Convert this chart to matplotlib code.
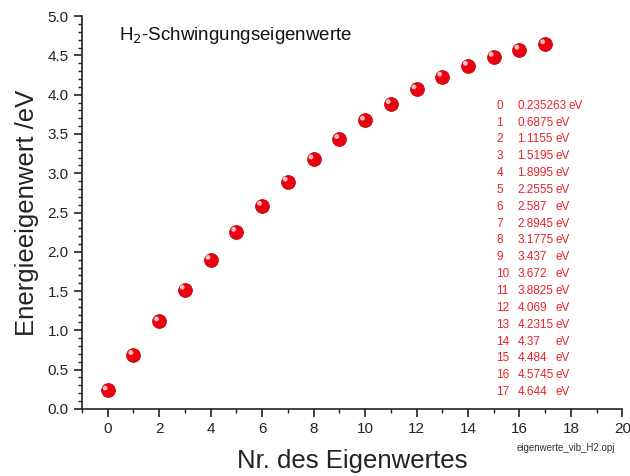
import numpy as np
import matplotlib.pyplot as plt

plt.rcParams['font.family'] = ['Liberation Sans', 'DejaVu Sans']

# eigenvalue number and energy in eV
nr = list(range(18))
energie = [0.235263, 0.6875, 1.1155, 1.5195, 1.8995, 2.2555, 2.587, 2.8945, 3.1775,
           3.437, 3.672, 3.8825, 4.069, 4.2315, 4.37, 4.484, 4.5745, 4.644]
werte_text = ['0.235263', '0.6875', '1.1155', '1.5195', '1.8995', '2.2555', '2.587', '2.8945',
              '3.1775', '3.437', '3.672', '3.8825', '4.069', '4.2315', '4.37', '4.484',
              '4.5745', '4.644']

fig = plt.figure(figsize=(6.3, 4.76), dpi=100)
ax = fig.add_axes([0.130, 0.141, 0.858, 0.825])

# red "sphere" markers with a small highlight
ax.scatter(nr, energie, s=100, color='#ee0010', edgecolors='#b00000', linewidths=0.5, zorder=3)
ax.scatter(np.array(nr) - 0.1, np.array(energie) + 0.03, s=12, color='#ffc0c0',
           edgecolors='none', zorder=4)

ax.set_xlim(-1, 20)
ax.set_ylim(0, 5)
ax.set_xticks(range(0, 21, 2))
ax.set_xticks(range(-1, 21), minor=True)
ax.set_yticks(np.arange(0, 5.01, 0.5))
ax.set_yticks(np.arange(0, 5.01, 0.1), minor=True)
ax.yaxis.set_major_formatter(plt.FormatStrFormatter('%.1f'))
ax.tick_params(which='major', length=6, width=1.2, labelsize=11, direction='out',
               colors='#222222')
ax.tick_params(which='minor', length=3, width=1.0, direction='out', colors='#222222')
for s in ['top', 'right']:
    ax.spines[s].set_visible(False)
for s in ['left', 'bottom']:
    ax.spines[s].set_linewidth(1.2)
    ax.spines[s].set_color('#222222')

ax.set_xlabel('Nr. des Eigenwertes', fontsize=18.5, labelpad=9, color='#222222')
ax.set_ylabel('Energieeigenwert /eV', fontsize=18.5, labelpad=6, color='#222222')

ax.text(0.45, 4.7, 'H$_2$-Schwingungseigenwerte', fontsize=13.5, color='#111111')

# red table of values
y0 = 3.86
dy = 0.2145
for i, (n, w) in enumerate(zip(nr, werte_text)):
    y = y0 - i * dy
    ax.text(15.1, y, str(n), fontsize=8.5, color='#e8212a', va='center')
    ax.text(15.92, y, w, fontsize=8.5, color='#e8212a', va='center')
    ax.text(17.9 if i == 0 else 17.4, y, 'eV', fontsize=8.5, color='#e8212a', va='center')

fig.text(0.82, 0.052, 'eigenwerte_vib_H2.opj', fontsize=7, color='#333333')

fig.savefig('out.png', dpi=100)
